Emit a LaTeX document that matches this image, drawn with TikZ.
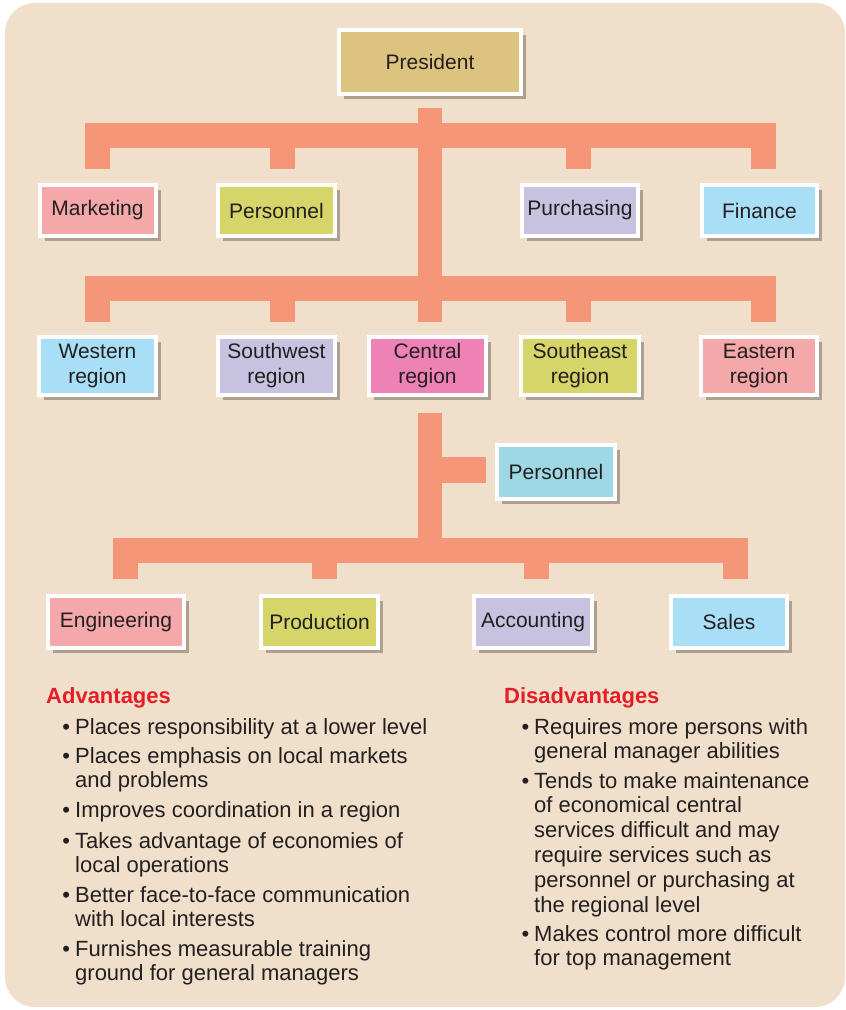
\documentclass[tikz,border=0pt]{standalone}
\usepackage{fontspec}
\setmainfont{Liberation Sans}
\usetikzlibrary{shadows}
\definecolor{panel}{RGB}{240,223,202}
\definecolor{conn}{RGB}{245,150,120}
\definecolor{cpres}{RGB}{220,196,128}
\definecolor{cpink}{RGB}{244,168,170}
\definecolor{cyel}{RGB}{213,213,106}
\definecolor{clav}{RGB}{198,194,224}
\definecolor{cblue}{RGB}{168,222,246}
\definecolor{cmag}{RGB}{238,130,180}
\definecolor{ccyan}{RGB}{158,216,228}
\definecolor{txt}{RGB}{35,31,32}
\definecolor{headred}{RGB}{228,30,38}
\newcommand{\itemlines}[1]{\begin{tabular}[t]{@{}l@{}}#1\end{tabular}}
\newcommand{\bul}{\llap{•\hspace{5pt}}}
\begin{document}
\begin{tikzpicture}[x=1pt,y=-1pt,
  orgbox/.style={draw=white, line width=4pt, inner sep=0pt, align=center, text=txt,
    font=\fontsize{21}{25}\selectfont,
    drop shadow={shadow xshift=5pt, shadow yshift=-5pt, fill=black, opacity=0.28}},
  bar/.style={draw=conn, line width=25pt, line join=miter, line cap=butt},
  heading/.style={anchor=base west, inner sep=0pt, text=headred, font=\fontsize{22}{26}\selectfont\bfseries},
  item/.style={anchor=base west, inner sep=0pt, text=txt, font=\fontsize{22}{24.8}\selectfont}
]
\useasboundingbox (0,0) rectangle (846,1010);
\fill[white] (0,0) rectangle (846,1010);
\fill[panel, rounded corners=30pt] (5,3) rectangle (845,1007);

% connector coordinates
\coordinate (t1top) at (430,108);
\coordinate (b1L) at (97,169);
\coordinate (b1M) at (430,135.5);
\coordinate (b1R) at (763.5,169);
\coordinate (b1a) at (282,169);
\coordinate (b1b) at (578.5,169);
\coordinate (b2L) at (97,322);
\coordinate (b2M) at (430,288);
\coordinate (b2R) at (763.5,322);
\coordinate (b2a) at (282,322);
\coordinate (b2b) at (578.5,322);
\coordinate (b2c) at (430,322);
\coordinate (t2top) at (430,413);
\coordinate (pbr) at (430,470);
\coordinate (pbrend) at (486,470);
\coordinate (b3L) at (125,579);
\coordinate (b3M) at (430,550);
\coordinate (b3R) at (735,579);
\coordinate (b3a) at (324,579);
\coordinate (b3b) at (536,579);

% connectors
\draw[bar, line width=24pt] (t1top) -- (b2c);
\draw[bar] (b1L) |- (b1M) -| (b1R);
\draw[bar] (b1a |- b1M) -- (b1a);
\draw[bar] (b1b |- b1M) -- (b1b);
\draw[bar] (b2L) |- (b2M) -| (b2R);
\draw[bar] (b2a |- b2M) -- (b2a);
\draw[bar] (b2b |- b2M) -- (b2b);
\draw[bar, line width=24pt] (t2top) -- (b3M);
\draw[bar, line width=26pt] (pbr) -- (pbrend);
\draw[bar] (b3L) |- (b3M) -| (b3R);
\draw[bar] (b3a |- b3M) -- (b3a);
\draw[bar] (b3b |- b3M) -- (b3b);

% boxes
\node[orgbox, fill=cpres, minimum width=182pt, minimum height=64pt] (pres) at (430,62) {President};

\node[orgbox, fill=cpink, minimum width=116pt, minimum height=51pt] (mkt) at (97.5,210.5) {Marketing};
\node[orgbox, fill=cyel, minimum width=117pt, minimum height=51pt] (pers1) at (276.5,210.5) {Personnel};
\node[orgbox, fill=clav, minimum width=116pt, minimum height=51pt] (purch) at (580,210.5) {Purchasing};
\node[orgbox, fill=cblue, minimum width=115pt, minimum height=51pt] (fin) at (759.5,210.5) {Finance};

\node[orgbox, fill=cblue, minimum width=117pt, minimum height=58pt] (west) at (97.5,366) {Western\\region};
\node[orgbox, fill=clav, minimum width=117pt, minimum height=58pt] (swest) at (276.5,366) {Southwest\\region};
\node[orgbox, fill=cmag, minimum width=117pt, minimum height=58pt] (cent) at (427.5,366) {Central\\region};
\node[orgbox, fill=cyel, minimum width=118pt, minimum height=58pt] (seast) at (580,366) {Southeast\\region};
\node[orgbox, fill=cpink, minimum width=116pt, minimum height=58pt] (east) at (759,366) {Eastern\\region};

\node[orgbox, fill=ccyan, minimum width=118pt, minimum height=54pt] (pers2) at (556,472) {Personnel};

\node[orgbox, fill=cpink, minimum width=136pt, minimum height=52pt] (eng) at (116,622) {Engineering};
\node[orgbox, fill=cyel, minimum width=117pt, minimum height=52pt] (prod) at (319.5,622) {Production};
\node[orgbox, fill=clav, minimum width=118pt, minimum height=52pt] (acc) at (533,622) {Accounting};
\node[orgbox, fill=cblue, minimum width=116pt, minimum height=52pt] (sales) at (729,622) {Sales};

% advantages
\node[heading] (advh) at (46,703) {Advantages};
\node[item] (a1) at (75,734) {\itemlines{\bul Places responsibility at a lower level}};
\node[item] (a2) at (75,763) {\itemlines{\bul Places emphasis on local markets\\and problems}};
\node[item] (a3) at (75,817) {\itemlines{\bul Improves coordination in a region}};
\node[item] (a4) at (75,848) {\itemlines{\bul Takes advantage of economies of\\local operations}};
\node[item] (a5) at (75,902) {\itemlines{\bul Better face-to-face communication\\with local interests}};
\node[item] (a6) at (75,956) {\itemlines{\bul Furnishes measurable training\\ground for general managers}};

% disadvantages
\node[heading] (dish) at (504,703) {Disadvantages};
\node[item] (d1) at (534,734) {\itemlines{\bul Requires more persons with\\general manager abilities}};
\node[item] (d2) at (534,788) {\itemlines{\bul Tends to make maintenance\\of economical central\\services difficult and may\\require services such as\\personnel or purchasing at\\the regional level}};
\node[item] (d3) at (534,941) {\itemlines{\bul Makes control more difficult\\for top management}};
\end{tikzpicture}
\end{document}
